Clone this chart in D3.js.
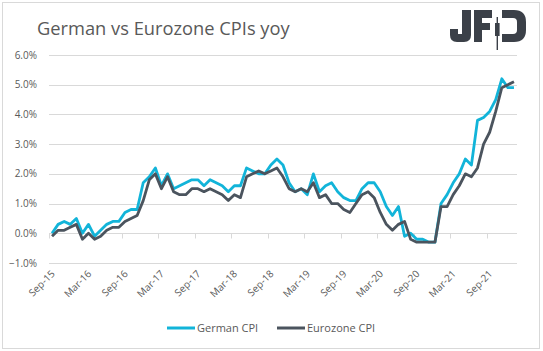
<!DOCTYPE html>
<html>
<head>
<meta charset="utf-8">
<script src="https://cdn.jsdelivr.net/npm/d3@7"></script>
<style>
  body { margin: 0; background: #fff; }
  text { font-family: "Open Sans", sans-serif; fill: #595959; }
</style>
</head>
<body>
<script>
const width = 543;
const height = 351;

// monthly categories, Sep-15 .. Jan-22
const months = d3.timeMonth.range(new Date(2015, 8, 1), new Date(2022, 1, 1));

const german = [
  0.0, 0.3, 0.4, 0.3,
  0.5, 0.0, 0.3, -0.1, 0.1, 0.3, 0.4, 0.4, 0.7, 0.8, 0.8, 1.7,
  1.9, 2.2, 1.6, 2.0, 1.5, 1.6, 1.7, 1.8, 1.8, 1.6, 1.8, 1.7,
  1.6, 1.4, 1.6, 1.6, 2.2, 2.1, 2.0, 2.0, 2.3, 2.5, 2.3, 1.7,
  1.4, 1.5, 1.3, 2.0, 1.4, 1.6, 1.7, 1.4, 1.2, 1.1, 1.1, 1.5,
  1.7, 1.7, 1.4, 0.9, 0.6, 0.9, -0.1, 0.0, -0.2, -0.2, -0.3, -0.3,
  1.0, 1.3, 1.7, 2.0, 2.5, 2.3, 3.8, 3.9, 4.1, 4.5, 5.2, 4.9,
  4.9
];

const eurozone = [
  -0.1, 0.1, 0.1, 0.2,
  0.3, -0.2, 0.0, -0.2, -0.1, 0.1, 0.2, 0.2, 0.4, 0.5, 0.6, 1.1,
  1.8, 2.0, 1.5, 1.9, 1.4, 1.3, 1.3, 1.5, 1.5, 1.4, 1.5, 1.4,
  1.3, 1.1, 1.3, 1.2, 1.9, 2.0, 2.1, 2.0, 2.1, 2.2, 1.9, 1.5,
  1.4, 1.5, 1.4, 1.7, 1.2, 1.3, 1.0, 1.0, 0.8, 0.7, 1.0, 1.3,
  1.4, 1.2, 0.7, 0.3, 0.1, 0.3, 0.4, -0.2, -0.3, -0.3, -0.3, -0.3,
  0.9, 0.9, 1.3, 1.6, 2.0, 1.9, 2.2, 3.0, 3.4, 4.1, 4.9, 5.0,
  5.1
];

const tickLabels = ["Sep-15", "Mar-16", "Sep-16", "Mar-17", "Sep-17", "Mar-18", "Sep-18",
  "Mar-19", "Sep-19", "Mar-20", "Sep-20", "Mar-21", "Sep-21"];
const yTicks = [-1, 0, 1, 2, 3, 4, 5, 6];

const germanColor = "#12b4d9";
const euroColor = "#4b545e";

const svg = d3.select("body").append("svg")
  .attr("width", width)
  .attr("height", height);

// chart border
svg.append("rect")
  .attr("x", 2.5).attr("y", 2.5)
  .attr("width", 537).attr("height", 346)
  .attr("fill", "none")
  .attr("stroke", "#d9d9d9");

const x = d3.scaleBand()
  .domain(d3.range(months.length))
  .range([49, 517])
  .padding(0);

const y = d3.scaleLinear()
  .domain([-1, 6])
  .range([263, 55]);

const cx = i => x(i) + x.bandwidth() / 2;

// gridlines
svg.append("g")
  .selectAll("line")
  .data(yTicks)
  .join("line")
  .attr("x1", 49).attr("x2", 517)
  .attr("y1", d => Math.round(y(d)) + 0.5)
  .attr("y2", d => Math.round(y(d)) + 0.5)
  .attr("stroke", "#d9d9d9");

// y labels
svg.append("g")
  .selectAll("text")
  .data(yTicks)
  .join("text")
  .attr("x", 37)
  .attr("y", d => y(d))
  .attr("dy", "0.35em")
  .attr("text-anchor", "end")
  .attr("font-size", 10)
  .text(d => d3.format(".1f")(d) + "%");

// tick marks on the zero line, every 6 months
const tickIdx = d3.range(0, months.length, 6).filter(i => i / 6 < tickLabels.length);
const y0 = Math.round(y(0)) + 0.5;
svg.append("g")
  .selectAll("line")
  .data(tickIdx)
  .join("line")
  .attr("x1", i => Math.round(x(i)) + 0.5)
  .attr("x2", i => Math.round(x(i)) + 0.5)
  .attr("y1", y0)
  .attr("y2", y0 + 5)
  .attr("stroke", "#d9d9d9");

// x labels
svg.append("g")
  .selectAll("text")
  .data(tickIdx)
  .join("text")
  .attr("transform", i => `translate(${cx(i) + 1},272) rotate(-45)`)
  .attr("text-anchor", "end")
  .attr("dy", "0.35em")
  .attr("font-size", 10)
  .text(i => tickLabels[i / 6]);

const line = d3.line()
  .x((d, i) => cx(i))
  .y(d => y(d));

svg.append("path")
  .datum(german)
  .attr("fill", "none")
  .attr("stroke", germanColor)
  .attr("stroke-width", 2.8)
  .attr("stroke-linejoin", "round")
  .attr("d", line);

svg.append("path")
  .datum(eurozone)
  .attr("fill", "none")
  .attr("stroke", euroColor)
  .attr("stroke-width", 2.8)
  .attr("stroke-linejoin", "round")
  .attr("d", line);

// title
svg.append("text")
  .attr("x", 37)
  .attr("y", 35)
  .attr("font-size", 18.3)
  .text("German vs Eurozone CPIs yoy");

// legend
const legend = [
  { name: "German CPI", color: germanColor, x: 167 },
  { name: "Eurozone CPI", color: euroColor, x: 277 }
];
const lg = svg.append("g").selectAll("g").data(legend).join("g")
  .attr("transform", d => `translate(${d.x},328)`);
lg.append("line")
  .attr("x1", 0).attr("x2", 28)
  .attr("stroke", d => d.color)
  .attr("stroke-width", 3);
lg.append("text")
  .attr("x", 30)
  .attr("dy", "0.35em")
  .attr("font-size", 11)
  .text(d => d.name);

// JFD logo
const logo = svg.append("g").attr("fill", "#3b4048");
logo.append("path")
  .attr("d", "M460,10 H471 V35 Q471,42 464,42 H457 Q450,42 450,35 V29 H458 V34 H462 V10 Z");
logo.append("path")
  .attr("d", "M474,10 H492 V18 H482 V23 H490 V30 H482 V42 H474 Z");
logo.append("rect").attr("x", 496.6).attr("y", 17).attr("width", 1.4).attr("height", 33);
logo.append("rect").attr("x", 495).attr("y", 23).attr("width", 4.6).attr("height", 13);
logo.append("path")
  .attr("d", "M502,10 H514 Q526,10 526,22 V30 Q526,42 514,42 H502 V34 H513 Q517,34 517,30 V22 Q517,18 513,18 H502 Z");
</script>
</body>
</html>
